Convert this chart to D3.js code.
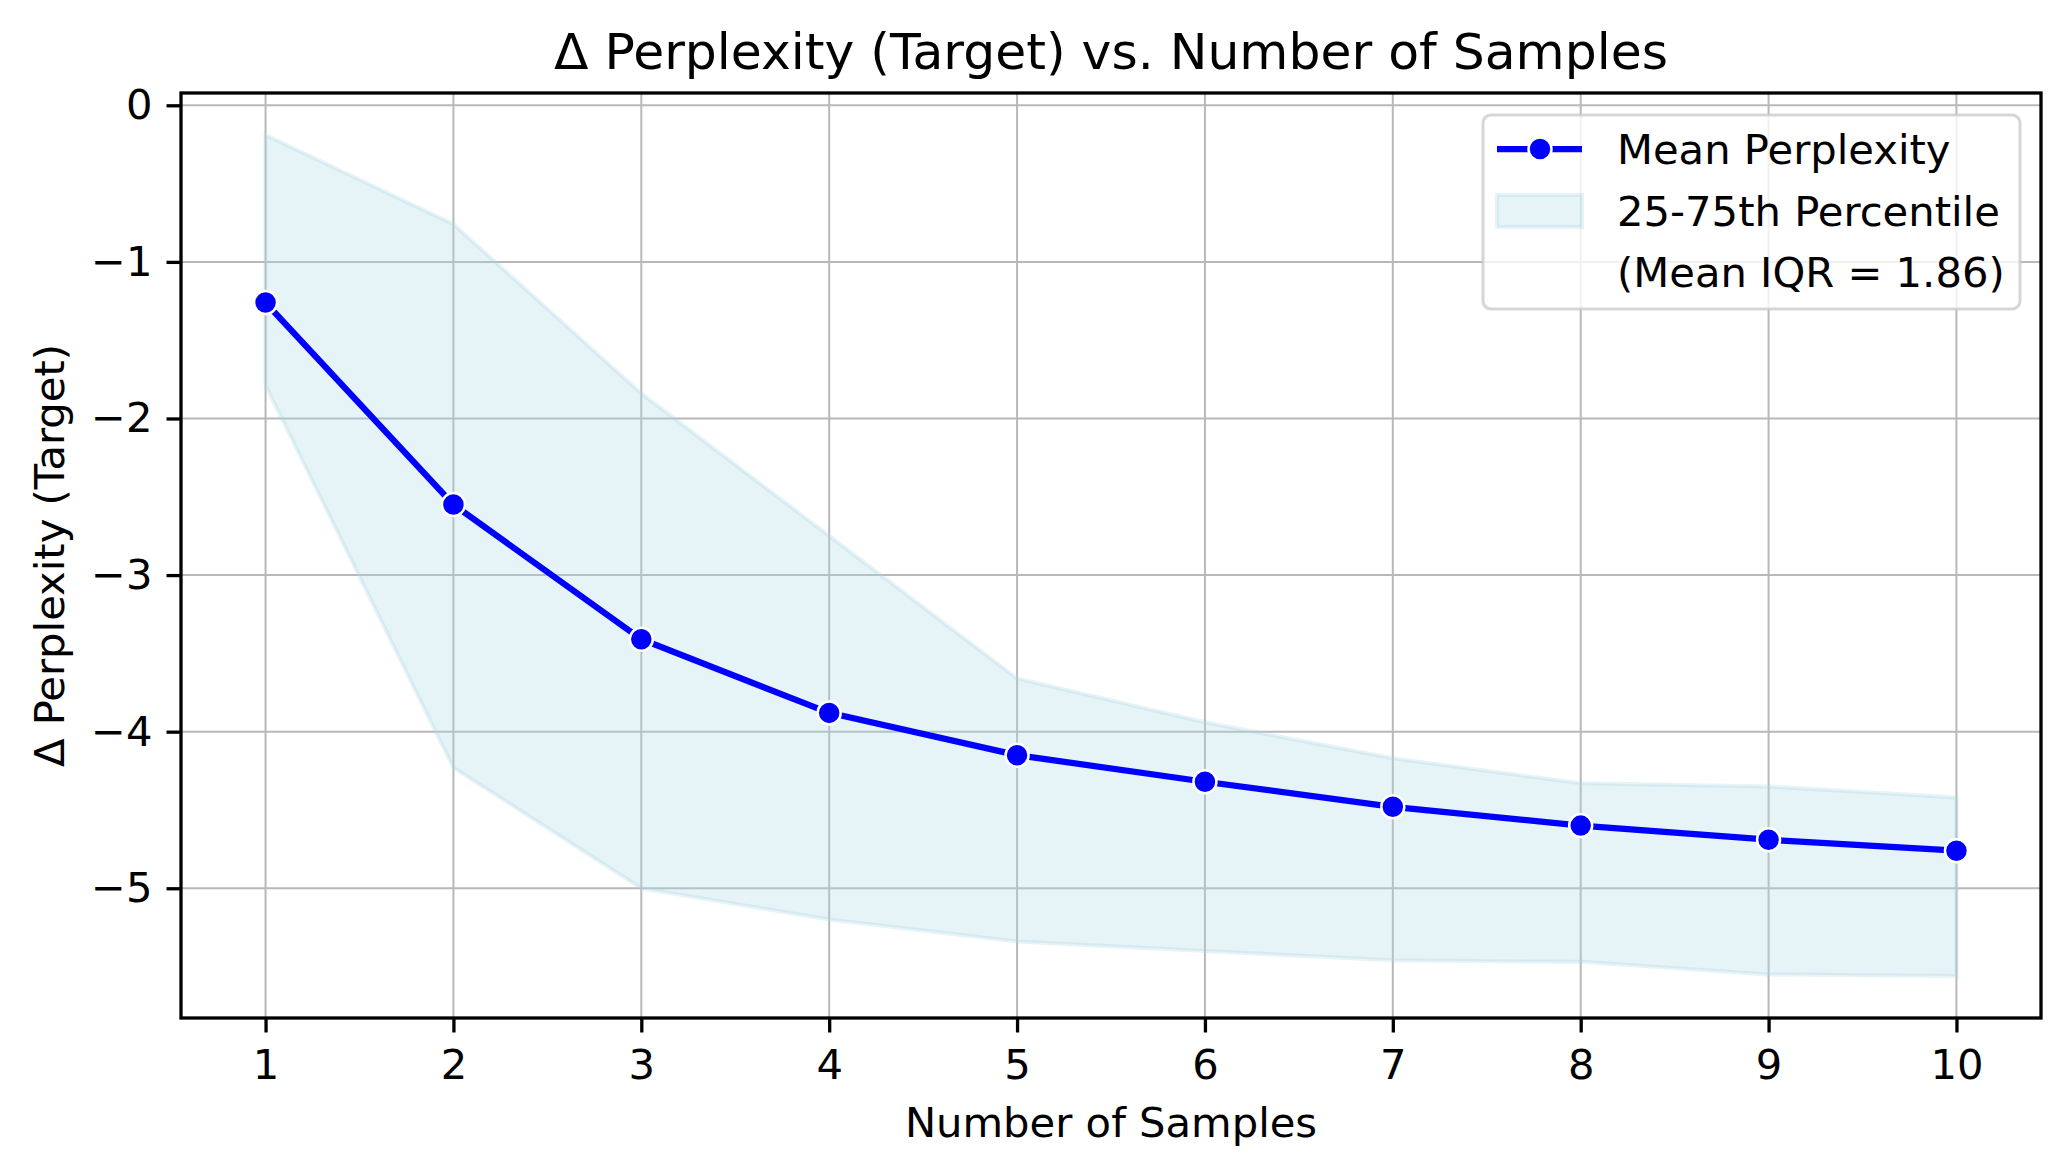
<!DOCTYPE html>
<html>
<head>
<meta charset="utf-8">
<script src="https://cdn.jsdelivr.net/npm/d3@7"></script>
<style>
  body { margin: 0; background: #fff; }
  svg { display: block; font-family: "DejaVu Sans", sans-serif; }
</style>
</head>
<body>
<svg id="chart" width="2071" height="1174"></svg>
<script>
// values
const samples = [1, 2, 3, 4, 5, 6, 7, 8, 9, 10];
const meanPerplexity = [-1.26, -2.55, -3.41, -3.88, -4.15, -4.32, -4.48, -4.60, -4.69, -4.76];
const upperQ = [-0.19, -0.76, -1.84, -2.75, -3.66, -3.94, -4.17, -4.33, -4.35, -4.42];
const lowerQ = [-1.79, -4.23, -5.00, -5.20, -5.34, -5.40, -5.46, -5.47, -5.55, -5.56];
const yTicks = [0, -1, -2, -3, -4, -5];
const legendLabels = ["Mean Perplexity", "25-75th Percentile", "(Mean IQR = 1.86)"];

const svg = d3.select("#chart");
const margin = {left: 181, right: 30, top: 93, bottom: 156};
const W = 2071, H = 1174;
const plotW = W - margin.left - margin.right;
const plotH = H - margin.top - margin.bottom;
const fs = 41.7;
const fill = "rgba(173,216,230,0.3)";

// matplotlib style 5% padding
const xPad = (d3.max(samples) - d3.min(samples)) * 0.05;
const allY = meanPerplexity.concat(upperQ, lowerQ);
const yMin = d3.min(allY), yMax = d3.max(allY);
const yPad = (yMax - yMin) * 0.05;

const x = d3.scaleLinear().domain([d3.min(samples) - xPad, d3.max(samples) + xPad]).range([0, plotW]);
const y = d3.scaleLinear().domain([yMin - yPad, yMax + yPad]).range([plotH, 0]);

const g = svg.append("g").attr("transform", "translate(" + margin.left + "," + margin.top + ")");

// grid
g.append("g").selectAll("line").data(samples).enter().append("line")
  .attr("x1", d => x(d)).attr("x2", d => x(d)).attr("y1", 0).attr("y2", plotH)
  .attr("stroke", "#b8b8b8").attr("stroke-width", 2);
g.append("g").selectAll("line").data(yTicks).enter().append("line")
  .attr("y1", d => y(d)).attr("y2", d => y(d)).attr("x1", 0).attr("x2", plotW)
  .attr("stroke", "#b8b8b8").attr("stroke-width", 2);

// IQR band
const band = samples.map((s, i) => ({s: s, lo: lowerQ[i], hi: upperQ[i]}));
g.append("path").datum(band)
  .attr("d", d3.area().x(d => x(d.s)).y0(d => y(d.lo)).y1(d => y(d.hi)))
  .attr("fill", fill).attr("stroke", fill).attr("stroke-width", 4);

// mean line
const pts = samples.map((s, i) => ({s: s, v: meanPerplexity[i]}));
g.append("path").datum(pts)
  .attr("d", d3.line().x(d => x(d.s)).y(d => y(d.v)))
  .attr("fill", "none").attr("stroke", "#0000ff").attr("stroke-width", 6.25);
g.append("g").selectAll("circle").data(pts).enter().append("circle")
  .attr("cx", d => x(d.s)).attr("cy", d => y(d.v)).attr("r", 11.5)
  .attr("fill", "#0000ff").attr("stroke", "#fff").attr("stroke-width", 2.5);

// axes
const xAxis = g.append("g").attr("transform", "translate(0," + plotH + ")")
  .call(d3.axisBottom(x).tickValues(samples).tickSize(14.5).tickPadding(17).tickFormat(d3.format("d")));
const yAxis = g.append("g")
  .call(d3.axisLeft(y).tickValues(yTicks).tickSize(14.5).tickPadding(14)
    .tickFormat(d => d < 0 ? "\u2212" + Math.abs(d) : String(d)));
[xAxis, yAxis].forEach(a => {
  a.select(".domain").remove();
  a.selectAll(".tick line").attr("stroke", "#000").attr("stroke-width", 3.3);
  a.selectAll(".tick text").attr("fill", "#000").style("font-size", fs + "px").style("font-family", "DejaVu Sans");
});

g.append("rect").attr("width", plotW).attr("height", plotH)
  .attr("fill", "none").attr("stroke", "#000").attr("stroke-width", 3.3);

// titles
svg.append("text").attr("x", margin.left + plotW / 2).attr("y", 69)
  .attr("text-anchor", "middle").style("font-size", "50.4px")
  .text("\u0394 Perplexity (Target) vs. Number of Samples");
svg.append("text").attr("x", margin.left + plotW / 2).attr("y", 1137)
  .attr("text-anchor", "middle").style("font-size", fs + "px")
  .text("Number of Samples");
svg.append("text").attr("transform", "translate(64," + (margin.top + plotH / 2) + ") rotate(-90)")
  .attr("text-anchor", "middle").style("font-size", fs + "px")
  .text("\u0394 Perplexity (Target)");

// legend
const leg = svg.append("g");
leg.append("rect").attr("x", 1483).attr("y", 115).attr("width", 537).attr("height", 194)
  .attr("rx", 8).attr("fill", "rgba(255,255,255,0.8)")
  .attr("stroke", "rgba(204,204,204,0.8)").attr("stroke-width", 3);
const rowY = [149, 211, 272];
leg.append("line").attr("x1", 1497).attr("x2", 1582).attr("y1", rowY[0]).attr("y2", rowY[0])
  .attr("stroke", "#0000ff").attr("stroke-width", 6.25);
leg.append("circle").attr("cx", 1540).attr("cy", rowY[0]).attr("r", 11.5)
  .attr("fill", "#0000ff").attr("stroke", "#fff").attr("stroke-width", 2.5);
leg.append("rect").attr("x", 1497).attr("y", rowY[1] - 16).attr("width", 85).attr("height", 32)
  .attr("fill", fill).attr("stroke", fill).attr("stroke-width", 4);
leg.selectAll("text.lab").data(legendLabels).enter().append("text")
  .attr("class", "lab").attr("x", 1617).attr("y", (d, i) => rowY[i])
  .attr("dy", "0.36em").style("font-size", fs + "px").text(d => d);
</script>
</body>
</html>
